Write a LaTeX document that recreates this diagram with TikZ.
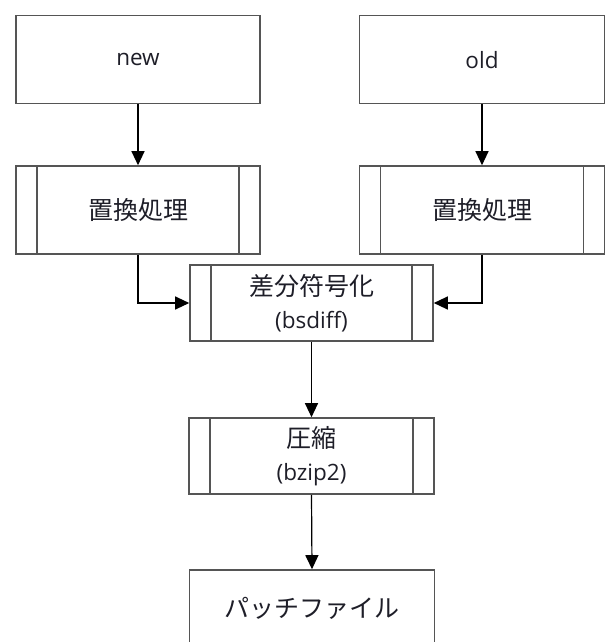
\documentclass[tikz,border=0pt]{standalone}
\usepackage{fontspec}
\setmainfont{Open Sans}
\newfontfamily\jpfont{Noto Sans CJK JP}
\usetikzlibrary{arrows.meta}
\definecolor{frame}{HTML}{555555}
\definecolor{txt}{HTML}{1E1E28}
\tikzset{
  box/.style={draw=frame, line width=1.6pt, fill=white, minimum width=244pt, minimum height=76pt,
    inner sep=0pt, align=center, text=txt, font=\fontsize{22.5}{33}\selectfont},
  tall/.style={minimum height=88pt},
  proc/.style={box, path picture={
      \draw[frame, line width=1.6pt]
        ([xshift=21pt]path picture bounding box.north west) -- ([xshift=21pt]path picture bounding box.south west)
        ([xshift=-21pt]path picture bounding box.north east) -- ([xshift=-21pt]path picture bounding box.south east);}},
  conn/.style={draw=black, line width=1.2pt, -{Triangle[length=14pt,width=13pt]}}
}
\newcommand{\jt}[1]{{\jpfont\fontsize{25}{33}\selectfont #1}}
\begin{document}
\begin{tikzpicture}[x=1pt,y=-1pt]
  \useasboundingbox (0,0) rectangle (606,642);
  \clip (0,0) rectangle (606,642);
  \fill[white] (0,0) rectangle (606,642);
  \node[box, tall] (new) at (138,59.6) {new};
  \node[box, tall, minimum width=245pt] (old) at (482,59.6) {old};
  \node[proc, tall] (p1) at (138,210) {\jt{置換処理}};
  \node[proc, tall, minimum width=245pt] (p2) at (482,210) {\jt{置換処理}};
  \node[proc, minimum width=243pt] (diff) at (311.5,303) {\jt{差分符号化}\\(bsdiff)};
  \node[proc, minimum width=245pt] (comp) at (311.5,456) {\jt{圧縮}\\(bzip2)};
  \node[box, minimum width=245pt] (patch) at (312,608) {\jt{パッチファイル}};
  \draw[conn] (new.south) -- (p1.north);
  \draw[conn] (old.south) -- (p2.north);
  \draw[conn] (p1.south) |- (diff.west);
  \draw[conn] (p2.south) |- (diff.east);
  \draw[conn] (diff.south) -- (comp.north);
  \draw[conn] (comp.south) -- (patch.north);
\end{tikzpicture}
\end{document}
